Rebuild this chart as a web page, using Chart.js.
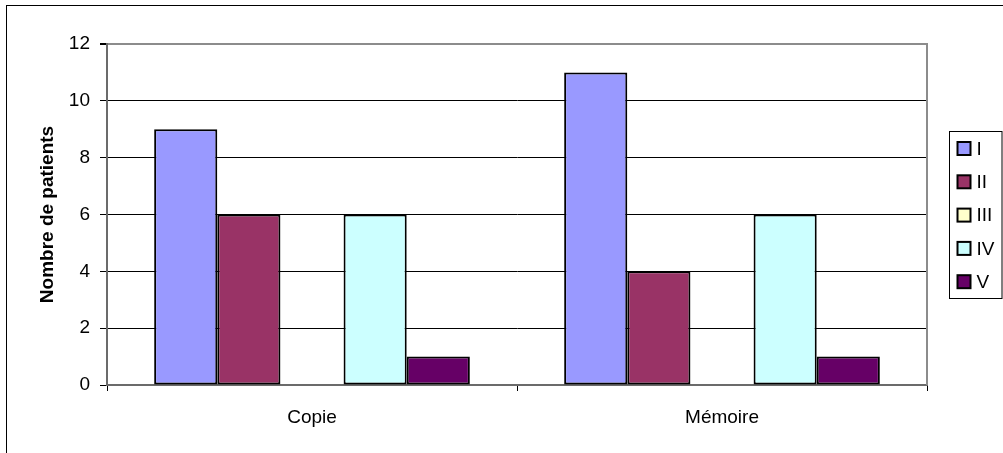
<!DOCTYPE html>
<html>
<head>
<meta charset="utf-8">
<script src="https://cdn.jsdelivr.net/npm/chart.js@4/dist/chart.umd.min.js"></script>
<style>
  html, body { margin: 0; padding: 0; background: #fff; }
  #wrap { position: relative; width: 1003px; height: 453px; overflow: hidden; }
  #frame { position: absolute; left: 6px; top: 5px; width: 1100px; height: 600px;
           border-top: 1px solid #000; border-left: 1px solid #000; pointer-events: none; }
  canvas { position: absolute; left: 0; top: 0; }
</style>
</head>
<body>
<div id="wrap">
  <canvas id="c" width="1003" height="453"></canvas>
  <div id="frame"></div>
</div>
<script>
const categories = ["Copie", "Mémoire"];
const seriesNames = ["I", "II", "III", "IV", "V"];
const serieI = [9, 11];
const serieII = [6, 4];
const serieIII = [0, 0];
const serieIV = [6, 6];
const serieV = [1, 1];
const yTicks = [0, 2, 4, 6, 8, 10, 12];
const yTitle = "Nombre de patients";

const colors = ["#9999FF", "#993366", "#FFFFCC", "#CCFFFF", "#660066"];
const values = [serieI, serieII, serieIII, serieIV, serieV];

Chart.defaults.font.family = "'Liberation Sans', Arial, sans-serif";
Chart.defaults.color = "#000";

const frameAndLegend = {
  id: "frameAndLegend",
  afterDraw(chart) {
    const ctx = chart.ctx;
    const a = chart.chartArea;
    ctx.save();
    // right border of plot area
    ctx.strokeStyle = "#8c8c8c";
    ctx.lineWidth = 2;
    ctx.beginPath();
    ctx.moveTo(a.right, a.top - 1);
    ctx.lineTo(a.right, a.bottom);
    ctx.stroke();
    // legend
    const ds = chart.data.datasets;
    const lx = a.right + 22.5;
    const lw = chart.width - 1 - lx;
    const rowH = 33.3;
    const lh = 167;
    const ly = Math.round((a.top + a.bottom) / 2 - lh / 2) + 0.5;
    ctx.fillStyle = "#fff";
    ctx.fillRect(lx, ly, lw, lh);
    ctx.strokeStyle = "#000";
    ctx.lineWidth = 1;
    ctx.strokeRect(lx, ly, lw, lh);
    ctx.font = "19px 'Liberation Sans', Arial, sans-serif";
    ctx.textBaseline = "middle";
    ctx.textAlign = "left";
    ds.forEach((d, i) => {
      const cy = ly + 17 + i * rowH;
      const sx = lx + 8;
      ctx.fillStyle = d.backgroundColor;
      ctx.fillRect(sx, cy - 6.5, 13, 13);
      ctx.strokeStyle = "#000";
      ctx.lineWidth = 2;
      ctx.strokeRect(sx, cy - 6.5, 13, 13);
      ctx.fillStyle = "#000";
      ctx.fillText(d.label, sx + 19, cy + 1);
    });
    ctx.restore();
  }
};

new Chart(document.getElementById("c"), {
  type: "bar",
  data: {
    labels: categories,
    datasets: seriesNames.map((name, i) => ({
      label: name,
      data: values[i],
      backgroundColor: colors[i],
      borderColor: "#000",
      borderWidth: (c) => (c.raw === 0 ? 0 : 2),
      borderSkipped: false,
      categoryPercentage: 0.77,
      barPercentage: 1.0
    }))
  },
  options: {
    responsive: false,
    animation: false,
    events: [],
    layout: { padding: { top: 44, right: 76, bottom: 0, left: 0 } },
    plugins: { legend: { display: false }, tooltip: { enabled: false } },
    scales: {
      x: {
        offset: true,
        grid: {
          offset: true,
          drawOnChartArea: false,
          drawTicks: true,
          tickLength: 6,
          tickColor: "#000"
        },
        border: { color: "#6b6b6b", width: 2 },
        ticks: { font: { size: 19 }, padding: 15, color: "#000", maxRotation: 0 },
        afterFit(scale) { scale.height = 68; }
      },
      y: {
        min: 0,
        max: 12,
        afterBuildTicks(scale) { scale.ticks = yTicks.map(v => ({ value: v })); },
        grid: {
          color: (c) => (c.tick && c.tick.value === 12 ? "#8c8c8c" : "#000"),
          lineWidth: (c) => (c.tick && c.tick.value === 12 ? 2 : 1),
          tickLength: 7,
          tickColor: "#000"
        },
        border: { color: "#6b6b6b", width: 2 },
        ticks: { font: { size: 19 }, padding: 10, color: "#000" },
        title: {
          display: true,
          text: yTitle,
          font: { size: 19, weight: "bold" },
          color: "#000",
          padding: { top: 36, bottom: 0 }
        },
        afterFit(scale) { scale.width = 107; }
      }
    }
  },
  plugins: [frameAndLegend]
});
</script>
</body>
</html>
